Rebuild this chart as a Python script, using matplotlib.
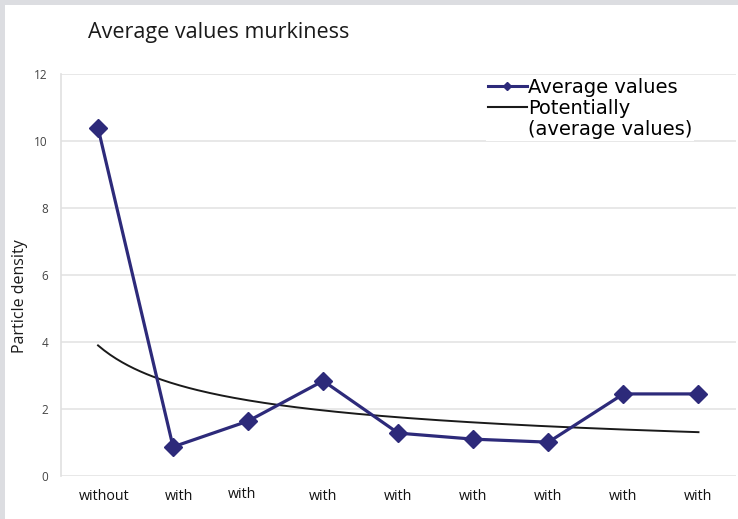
"""
Average values murkiness: particle density with a power trend line.
"""

import numpy as np
import matplotlib
matplotlib.use('Agg')
import matplotlib.pyplot as plt
import matplotlib.transforms as mtransforms
from matplotlib.lines import Line2D
from matplotlib.patches import Rectangle

plt.rcParams['font.family'] = ['Open Sans', 'DejaVu Sans']

###############################################################################
# Values

categories = ['without', 'with', 'with', 'with', 'with', 'with', 'with',
              'with', 'with']
average_values = [10.39, 0.87, 1.64, 2.84, 1.28, 1.10, 1.01, 2.45, 2.45]
y_ticks = [0, 2, 4, 6, 8, 10, 12]

navy = '#2d2a7a'

###############################################################################
# Power trend line (least squares on log values, like a spreadsheet does)

x = np.arange(1, len(average_values) + 1)
b, log_a = np.polyfit(np.log(x), np.log(average_values), 1)
x_fit = np.linspace(1, len(average_values), 200)
y_fit = np.exp(log_a) * x_fit ** b

###############################################################################
# Figure

fig = plt.figure(figsize=(7.38, 5.19), dpi=100)
fig.patch.set_facecolor('#dcdde1')
fig.patches.append(Rectangle((5 / 738, 0), 1, 1 - 5 / 519,
                             transform=fig.transFigure, facecolor='white',
                             edgecolor='none', zorder=-1))

ax = fig.add_axes([60.5 / 738, 43 / 519, 675.5 / 738, 402 / 519])
ax.set_facecolor('none')

ax.plot(x, average_values, color=navy, lw=2.3, marker='D', ms=9.5,
        zorder=3)
ax.plot(x_fit, y_fit, color='#1a1a1a', lw=1.4, zorder=2)

ax.set_xlim(0.5, len(average_values) + 0.5)
ax.set_ylim(0, 12)
ax.set_yticks(y_ticks)
ax.set_yticklabels([str(t) for t in y_ticks], fontsize=8.5, color='#444444')
ax.set_xticks(x)
ax.set_xticklabels(categories, fontsize=10.3, color='#111111')
ax.tick_params(axis='both', length=0)
ax.tick_params(axis='y', pad=9)
ax.tick_params(axis='x', pad=9.5)

# the first labels are nudged sideways in the original, the third one up
nudges = [(4.5, 0), (4.5, 0), (-4.5, 1.5)]
for label, (dx, dy) in zip(ax.get_xticklabels(), nudges):
    shift = mtransforms.ScaledTranslation(dx / 72, dy / 72,
                                          fig.dpi_scale_trans)
    label.set_transform(label.get_transform() + shift)

ax.grid(axis='y', color='#e4e4e4', lw=1.2)
ax.set_axisbelow(True)
for side in ['top', 'right', 'bottom']:
    ax.spines[side].set_visible(False)
ax.spines['left'].set_color('#e0e0e0')
ax.spines['left'].set_linewidth(1.2)

ax.set_ylabel('Particle density', fontsize=11.5, color='#1a1a1a')
ax.yaxis.set_label_coords(-0.048, 0.448)

fig.text(88 / 738, 1 - 38 / 519, 'Average values murkiness', fontsize=15.5,
         va='baseline', ha='left', color='#1a1a1a')

# second label is split in two entries so the line sits by its first row
handles = [Line2D([], [], color=navy, lw=2.2, marker='D', ms=4),
           Line2D([], [], color='#1a1a1a', lw=1.5),
           Line2D([], [], color='none')]
ax.legend(handles, ['Average values', 'Potentially', '(average values)'],
          loc='upper left', bbox_to_anchor=(486 / 738, 1 - 76 / 519),
          bbox_transform=fig.transFigure, frameon=True, fancybox=False,
          edgecolor='none', facecolor='white', framealpha=1,
          prop={'family': 'DejaVu Sans', 'size': 14},
          handlelength=2.0, handletextpad=0.05,
          labelspacing=0.1, borderpad=0.1, borderaxespad=0)

fig.savefig('out.png', dpi=100)
